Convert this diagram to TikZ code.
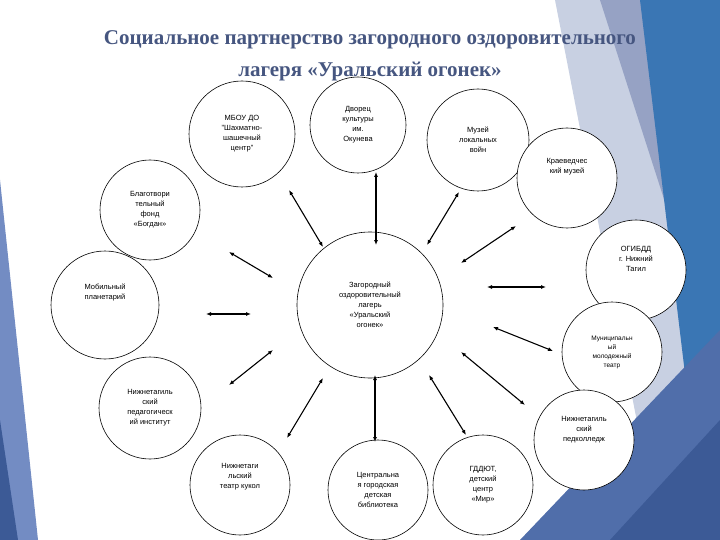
\documentclass[tikz,border=0pt]{standalone}
\usepackage{fontspec}
\usetikzlibrary{arrows.meta}
\setmainfont{Liberation Sans}
\newfontfamily\titlefont{Liberation Serif}
\definecolor{ttl}{RGB}{70,86,128}
\definecolor{bgA}{RGB}{200,208,226}
\definecolor{bgB}{RGB}{150,162,196}
\definecolor{bgC}{RGB}{58,118,180}
\definecolor{bgD}{RGB}{80,110,170}
\definecolor{bgE}{RGB}{60,90,150}
\definecolor{bgF}{RGB}{115,140,195}
\begin{document}
\begin{tikzpicture}[x=1pt,y=-1pt,
  circ/.style={draw,circle,line width=0.6pt,fill=white,font=\fontsize{7.5}{10}\selectfont,align=center},
  link/.style={{Latex[length=5pt,width=4pt]}-{Latex[length=5pt,width=4pt]},line width=1.1pt}]
\useasboundingbox (0,0) rectangle (720,540);
% background
\fill[white] (0,0) rectangle (720,540);
\fill[bgA] (555,0) -- (720,0) -- (720,540) -- (660,540) -- cycle;
\fill[bgB] (600,0) -- (690,0) -- (690,280) -- cycle;
\fill[bgC] (640,0) -- (720,0) -- (720,540) -- (705,540) -- cycle;
\fill[bgD] (520,540) -- (720,330) -- (720,540) -- cycle;
\fill[bgE] (610,540) -- (720,420) -- (720,540) -- cycle;
\fill[bgF] (0,180) -- (38,540) -- (0,540) -- cycle;
\fill[bgE] (0,420) -- (18,540) -- (0,540) -- cycle;
% title
\node[font=\titlefont\bfseries\fontsize{21}{32}\selectfont,text=ttl,align=center] (title) at (370,56)
  {Социальное партнерство загородного оздоровительного\\лагеря «Уральский огонек»};
% nodes
\node[circ,minimum size=146pt] (c) at (370,305) {Загородный\\оздоровительный\\лагерь\\«Уральский\\огонек»};
\node[circ,minimum size=106pt] (mb) at (242,134) {МБОУ ДО\\"Шахматно-\\шашечный\\центр"};
\node[circ,minimum size=96pt] (dk) at (358,125) {Дворец\\культуры\\им.\\Окунева};
\node[circ,minimum size=102pt] (mz) at (478,140) {Музей\\локальных\\войн};
\node[circ,minimum size=100pt] (kr) at (567,178) {Краеведчес\\кий музей\\[14pt]};
\node[circ,minimum size=100pt] (og) at (636,270) {ОГИБДД\\г. Нижний\\Тагил\\[12pt]};
\node[circ,minimum size=100pt,font=\fontsize{6.5}{9}\selectfont] (mu) at (612,352) {Муниципальн\\ый\\молодежный\\театр};
\node[circ,minimum size=100pt] (pk) at (584,440) {Нижнетагиль\\ский\\педколледж\\[12pt]};
\node[circ,minimum size=100pt] (gd) at (483,485) {ГДДЮТ,\\детский\\центр\\«Мир»};
\node[circ,minimum size=100pt] (cb) at (378,490) {Центральна\\я городская\\детская\\библиотека};
\node[circ,minimum size=100pt] (tk) at (240,485) {Нижнетаги\\льский\\театр кукол\\[8pt]};
\node[circ,minimum size=102pt] (pi) at (150,408) {Нижнетагиль\\ский\\педагогическ\\ий институт};
\node[circ,minimum size=108pt] (pl) at (105,305) {Мобильный\\планетарий\\[16pt]};
\node[circ,minimum size=100pt] (bf) at (150,210) {Благотвори\\тельный\\фонд\\«Богдан»};
% arrows
\foreach \n/\ax/\ay/\bx/\by in {1/289/190/323/247, 2/376/172/376/245, 3/459/192/427/245, 4/516/226/461/263,
  5/229/252/273/278, 6/206/314/251/314, 7/487/287/546/287, 8/493/327/553/351, 9/461/352/525/405,
  10/429/375/466/435, 11/375/375/375/442, 12/323/378/287/438, 13/273/350/229/385}
  {\coordinate (s\n) at (\ax,\ay); \coordinate (e\n) at (\bx,\by); \draw[link] (s\n) -- (e\n);}
\end{tikzpicture}
\end{document}
